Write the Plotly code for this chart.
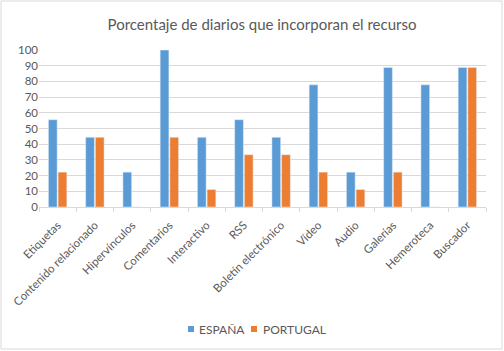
import plotly.graph_objects as go

categorias = ["Etiquetas", "Contenido relacionado", "Hipervínculos", "Comentarios",
              "Interactivo", "RSS", "Boletín electrónico", "Vídeo", "Audio",
              "Galerías", "Hemeroteca", "Buscador"]
espana = [55.6, 44.4, 22.2, 100, 44.4, 55.6, 44.4, 77.8, 22.2, 88.9, 77.8, 88.9]
portugal = [22.2, 44.4, 0, 44.4, 11.1, 33.3, 33.3, 22.2, 11.1, 22.2, 0, 88.9]
series_names = ["ESPAÑA", "PORTUGAL"]
series_colors = ["#5B9BD5", "#ED7D31"]
y_ticks = list(range(0, 101, 10))

W, H = 504, 351
L, R, T, B = 39, 18, 50, 144
pw, ph = W - L - R, H - T - B

gray = "#595959"
font = "Lato, 'Open Sans', sans-serif"

fig = go.Figure()
fig.add_trace(go.Bar(name=series_names[0], x=categorias, y=espana, marker_color=series_colors[0]))
fig.add_trace(go.Bar(name=series_names[1], x=categorias, y=portugal, marker_color=series_colors[1]))

def px(x):
    return (x - L) / pw

def py(y):
    return (H - B - y) / ph

# custom compact legend (squares + text)
legend_sq_x = [188, 251]
legend_txt_x = [197, 261]
legend_y = 329
shapes = [dict(type="rect", xref="paper", yref="paper",
               x0=px(1), x1=px(502), y0=py(349), y1=py(1),
               line=dict(color="#D9D9D9", width=1), fillcolor="rgba(0,0,0,0)",
               layer="below")]
annotations = []
for name, col, sx, tx in zip(series_names, series_colors, legend_sq_x, legend_txt_x):
    shapes.append(dict(type="rect", xref="paper", yref="paper",
                       x0=px(sx), x1=px(sx + 6), y0=py(legend_y + 3), y1=py(legend_y - 3),
                       line=dict(width=0), fillcolor=col))
    annotations.append(dict(text=name, xref="paper", yref="paper", x=px(tx), y=py(legend_y),
                            xanchor="left", yanchor="middle", showarrow=False,
                            font=dict(family=font, size=12, color=gray)))

fig.update_layout(
    width=W, height=H,
    margin=dict(l=L, r=R, t=T, b=B, autoexpand=False),
    paper_bgcolor="white", plot_bgcolor="white",
    barmode="group", bargap=0.48, bargroupgap=0.1,
    title=dict(text="Porcentaje de diarios que incorporan el recurso",
               x=(262) / W, xanchor="center", y=1 - 25 / H, yanchor="middle",
               font=dict(family=font, size=15, color=gray)),
    font=dict(family=font, size=11.5, color=gray),
    showlegend=False,
    xaxis=dict(type="category", tickangle=-45, showline=True, linecolor="#D9D9D9",
               ticks="outside", tickson="boundaries", ticklen=4, tickcolor="#D9D9D9",
               ticklabelstandoff=6, automargin=False,
               showgrid=False, tickfont=dict(family=font, size=11.5, color=gray)),
    yaxis=dict(range=[0, 100], tickvals=y_ticks, showgrid=True, gridcolor="#D9D9D9",
               zeroline=False, showline=False, ticks="", automargin=False,
               tickfont=dict(family=font, size=11.5, color=gray)),
    shapes=shapes,
    annotations=annotations,
)

fig.write_html("out.html")
